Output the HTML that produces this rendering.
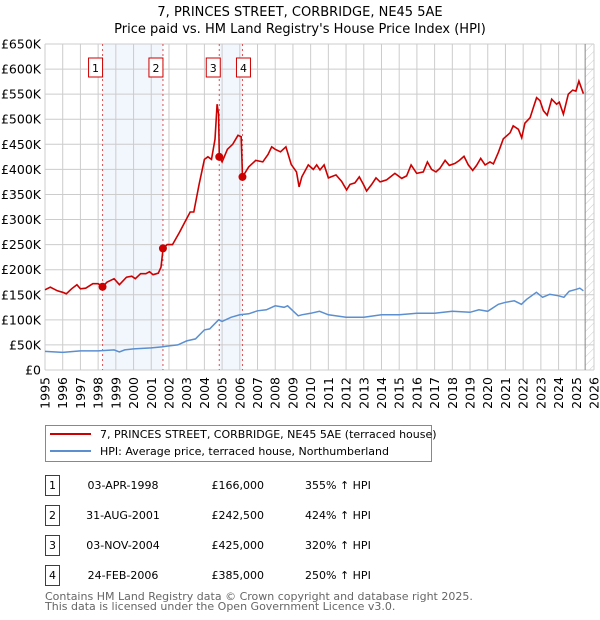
<!DOCTYPE html>
<html><head><meta charset="utf-8"><style>
body{margin:0;background:#fff;width:600px;height:620px;overflow:hidden;font-family:"DejaVu Sans","Liberation Sans",sans-serif}
svg{position:absolute;left:0;top:0}
</style></head><body>
<svg id="c" width="600" height="620" xmlns="http://www.w3.org/2000/svg" font-family="DejaVu Sans, Liberation Sans, sans-serif"></svg>
<script>
const priceYears=[1995,1995.3,1995.7,1996,1996.2,1996.5,1996.8,1997,1997.3,1997.7,1998,1998.25,1998.5,1998.9,1999.2,1999.6,1999.9,2000.1,2000.4,2000.7,2000.9,2001.1,2001.4,2001.55,2001.67,2001.9,2002.2,2002.6,2002.9,2003.2,2003.4,2003.7,2004,2004.2,2004.4,2004.6,2004.72,2004.8,2004.84,2005,2005.3,2005.6,2005.9,2006.08,2006.15,2006.5,2006.9,2007.3,2007.6,2007.8,2008,2008.3,2008.6,2008.9,2009.2,2009.35,2009.5,2009.87,2010.15,2010.34,2010.53,2010.76,2011,2011.43,2011.75,2012.03,2012.22,2012.5,2012.75,2012.98,2013.16,2013.45,2013.69,2013.92,2014.29,2014.76,2015.14,2015.42,2015.67,2015.99,2016.36,2016.59,2016.83,2017.08,2017.3,2017.59,2017.83,2018.15,2018.4,2018.66,2018.9,2019.15,2019.37,2019.6,2019.85,2020.13,2020.32,2020.6,2020.88,2021.26,2021.44,2021.73,2021.92,2022.1,2022.39,2022.57,2022.76,2022.95,2023.14,2023.36,2023.61,2023.89,2024.04,2024.27,2024.55,2024.8,2024.98,2025.15,2025.4];
const priceValues=[160,165,158,155,152,162,170,162,163,172,172,166,175,182,170,185,187,182,192,192,196,190,193,205,242,250,250,275,295,315,315,370,420,425,420,460,530,510,425,415,440,450,468,465,385,405,418,415,430,445,440,435,445,410,395,365,385,409,400,409,399,409,383,389,376,359,370,373,385,370,357,370,383,375,379,392,382,387,409,392,395,415,400,395,402,418,408,412,418,426,409,398,408,422,409,415,411,434,461,473,487,480,463,492,503,523,543,537,517,508,540,530,534,510,550,558,556,576,551];
const hpiYears=[1995,1996,1997,1998,1998.9,1999.2,1999.5,2000,2001,2001.6,2002,2002.5,2003,2003.5,2004,2004.3,2004.8,2005,2005.5,2006,2006.5,2007,2007.5,2008,2008.5,2008.7,2009,2009.3,2009.5,2010,2010.5,2011,2012,2013,2014,2015,2016,2017,2018,2019,2019.5,2020,2020.6,2021,2021.5,2021.9,2022.2,2022.75,2023.1,2023.5,2024,2024.3,2024.6,2025,2025.2,2025.4];
const hpiValues=[37,35,38,38,40,36,40,42,44,46,48,50,58,62,80,82,100,97,105,110,112,118,120,128,125,128,118,108,110,113,117,110,105,105,110,110,113,113,117,115,120,117,131,135,138,131,141,155,145,151,148,145,157,161,163,158];
const saleYears=[1998.25,2001.66,2004.84,2006.15];
const saleValues=[166,242.5,425,385];
const saleLabels=["1","2","3","4"];
const yTicks=[0,50,100,150,200,250,300,350,400,450,500,550,600,650];
const yTickLabels=["£0","£50K","£100K","£150K","£200K","£250K","£300K","£350K","£400K","£450K","£500K","£550K","£600K","£650K"];
const xTicks=[1995,1996,1997,1998,1999,2000,2001,2002,2003,2004,2005,2006,2007,2008,2009,2010,2011,2012,2013,2014,2015,2016,2017,2018,2019,2020,2021,2022,2023,2024,2025,2026];

const L=45,R=594,T=44,B=370;
const X=y=>L+(y-1995)*(R-L)/31;
const Y=v=>B-v*(B-T)/650;
const s=document.getElementById('c');
const NS='http://www.w3.org/2000/svg';
function mk(tag,a,txt){const e=document.createElementNS(NS,tag);for(const k in a)e.setAttribute(k,a[k]);if(txt!=null)e.textContent=txt;s.appendChild(e);return e;}

const defs=mk('defs',{});
defs.innerHTML='<pattern id="h" width="6" height="6" patternUnits="userSpaceOnUse" patternTransform="rotate(45)"><line x1="0" y1="0" x2="0" y2="6" stroke="#ccc" stroke-width="1"/></pattern>';

let e;
e=mk('text',{x:300,y:16,'text-anchor':'middle','font-size':13},'7, PRINCES STREET, CORBRIDGE, NE45 5AE');


e=mk('text',{x:300,y:33,'text-anchor':'middle','font-size':13},"Price paid vs. HM Land Registry's House Price Index (HPI)");



for(let i=0;i<saleYears.length;i+=2){
 e=mk('rect',{x:X(saleYears[i]),y:T,width:X(saleYears[i+1])-X(saleYears[i]),height:B-T,fill:'#edf3fc',opacity:0.7});
 
 
}
e=mk('rect',{x:X(2025.5),y:T,width:R-X(2025.5),height:B-T,fill:'url(#h)'});



xTicks.forEach(t=>{
 e=mk('line',{x1:X(t),x2:X(t),y1:T,y2:B,stroke:'#ccc','stroke-width':1});
 
 
 const tx=X(t)+4.5;
 e=mk('text',{x:tx,y:377,'text-anchor':'end','font-size':12.5,transform:'rotate(-90 '+tx+' 377)'},String(t));
 
 
});
yTicks.forEach((t,i)=>{
 e=mk('line',{x1:L,x2:R,y1:Y(t),y2:Y(t),stroke:'#ccc','stroke-width':1});
 
 
 e=mk('text',{x:41,y:Y(t)+4.5,'text-anchor':'end','font-size':12.5},yTickLabels[i]);
 
 
});
e=mk('line',{x1:X(2025.5),x2:X(2025.5),y1:T,y2:B,stroke:'#888','stroke-width':1});



saleYears.forEach((sy,i)=>{
 e=mk('line',{x1:X(sy),x2:X(sy),y1:T,y2:B,stroke:'#e05050','stroke-width':1,'stroke-dasharray':'2,3'});
 
 
 const bx=X(sy)-(i==2?6:i==3?-1:7)-7;
 e=mk('rect',{x:bx,y:58,width:14,height:19,fill:'#fff',stroke:'#c00','stroke-width':1});
 
 
 e=mk('text',{x:bx+7,y:72,'text-anchor':'middle','font-size':11},saleLabels[i]);
 
 
});

e=mk('polyline',{points:hpiYears.map((y,i)=>X(y).toFixed(1)+','+Y(hpiValues[i]).toFixed(1)).join(' '),fill:'none',stroke:'#5b8fd0','stroke-width':1.5});


e=mk('polyline',{points:priceYears.map((y,i)=>X(y).toFixed(1)+','+Y(priceValues[i]).toFixed(1)).join(' '),fill:'none',stroke:'#cc0000','stroke-width':1.6});


saleYears.forEach((sy,i)=>{
 e=mk('circle',{cx:X(sy),cy:Y(saleValues[i]),r:4,fill:'#cc0000'});
 
 
});

e=mk('rect',{x:45.5,y:425.5,width:386,height:36,fill:'#fff',stroke:'#888','stroke-width':1});


e=mk('line',{x1:50,x2:91,y1:434,y2:434,stroke:'#cc0000','stroke-width':2});


e=mk('text',{x:100,y:438,'font-size':11},'7, PRINCES STREET, CORBRIDGE, NE45 5AE (terraced house)');


e=mk('line',{x1:50,x2:91,y1:451,y2:451,stroke:'#5b8fd0','stroke-width':2});


e=mk('text',{x:100,y:455,'font-size':11},'HPI: Average price, terraced house, Northumberland');



const dates=["03-APR-1998","31-AUG-2001","03-NOV-2004","24-FEB-2006"];
const prices=["£166,000","£242,500","£425,000","£385,000"];
const pcts=["355% ↑ HPI","424% ↑ HPI","320% ↑ HPI","250% ↑ HPI"];
dates.forEach((d,i)=>{
 const ry=475+30*i;
 e=mk('rect',{x:45.5,y:ry+0.5,width:14,height:20,fill:'#fff',stroke:'#c00','stroke-width':1});
 
 
 e=mk('text',{x:52.5,y:ry+14,'text-anchor':'middle','font-size':11},String(i+1));
 
 
 e=mk('text',{x:123,y:ry+14,'text-anchor':'middle','font-size':11},d);
 
 
 e=mk('text',{x:264,y:ry+14,'text-anchor':'end','font-size':11},prices[i]);
 
 
 e=mk('text',{x:305,y:ry+14,'font-size':11},pcts[i]);
 
 
});
e=mk('text',{x:45,y:600,'font-size':11,fill:'#666'},'Contains HM Land Registry data © Crown copyright and database right 2025.');


e=mk('text',{x:45,y:610,'font-size':11,fill:'#666'},'This data is licensed under the Open Government Licence v3.0.');


</script>
</body></html>
